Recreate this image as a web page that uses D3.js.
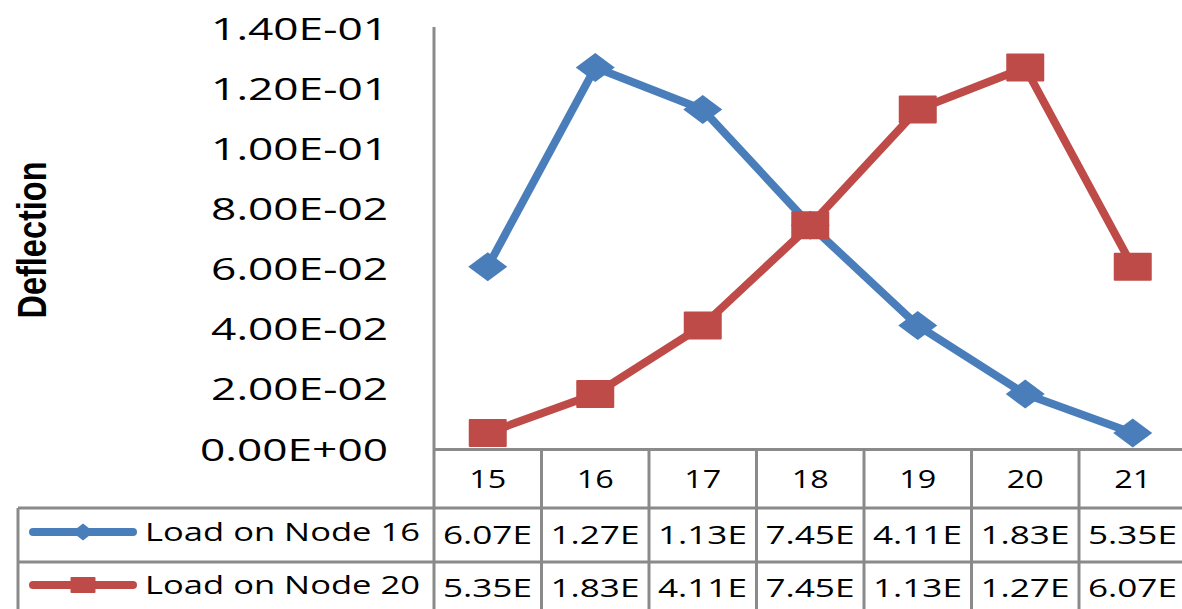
<!DOCTYPE html>
<html>
<head>
<meta charset="utf-8">
<script src="https://cdn.jsdelivr.net/npm/d3@7"></script>
<style>
  html, body { margin: 0; padding: 0; background: #ffffff; }
  svg { display: block; }
</style>
</head>
<body>
<svg id="chart" width="1182" height="609"></svg>
<script>
// Node positions along the beam
const categories = ["15", "16", "17", "18", "19", "20", "21"];
// Deflection for a load applied at node 16 and at node 20
const node16 = [0.0607, 0.127, 0.113, 0.0745, 0.0411, 0.0183, 0.00535];
const node20 = [0.00535, 0.0183, 0.0411, 0.0745, 0.113, 0.127, 0.0607];
const seriesNames = ["Load on Node 16", "Load on Node 20"];
const yTicks = [0, 0.02, 0.04, 0.06, 0.08, 0.1, 0.12, 0.14];

const W = 1182, H = 609;
const plotLeft = 434, plotTop = 28.5, plotBottom = 449;
const colW = 107.5;
const tableLeft = 18;
const rowLines = [508, 562];
const gridColor = "#8a8a8a";
const blue = "#4A7EBB", red = "#BE4B48";
const FONT = "'Open Sans', 'Liberation Sans', sans-serif";

const svg = d3.select("#chart");

const x = d3.scaleBand().domain(categories).range([plotLeft, plotLeft + colW * categories.length]);
const y = d3.scaleLinear().domain([0, 0.14]).range([plotBottom, plotTop]);

// Scientific notation like 1.40E-01
function sci(v) {
  const [m, e] = v.toExponential(2).split("e");
  const n = parseInt(e, 10);
  return m + "E" + (n < 0 ? "-" : "+") + String(Math.abs(n)).padStart(2, "0");
}

// Horizontal stretch that makes `sample` at `size` span `width` pixels
function fitScale(sample, size, width) {
  const t = svg.append("text").attr("font-family", FONT).attr("font-size", size).text(sample);
  const w = t.node().getComputedTextLength();
  t.remove();
  return width / w;
}

function stretchedText(g, str, px, py, opts) {
  return g.append("text")
    .attr("transform", `translate(${px},${py}) scale(${opts.sx || 1},1)`)
    .attr("text-anchor", opts.anchor || "start")
    .attr("font-family", FONT)
    .attr("font-size", opts.size)
    .attr("fill", "#000")
    .text(str);
}

// Y axis labels
const yAxisG = svg.append("g");
const ySize = 31;
const ySx = fitScale("1.40E-01", ySize, 177);
yTicks.forEach(t => {
  stretchedText(yAxisG, sci(t), 388, y(t) + 11.5, { size: ySize, sx: ySx, anchor: "end" });
});

// Y axis title
svg.append("text")
  .attr("transform", "translate(46,240) rotate(-90)")
  .attr("text-anchor", "middle")
  .attr("font-family", "'Liberation Sans Narrow', 'Liberation Sans', sans-serif")
  .attr("font-weight", "bold")
  .attr("font-size", 40)
  .attr("textLength", 157)
  .attr("lengthAdjust", "spacingAndGlyphs")
  .text("Deflection");

// Data table grid
const grid = svg.append("g").attr("stroke", gridColor).attr("stroke-width", 3).attr("fill", "none");
grid.append("line").attr("x1", plotLeft).attr("x2", plotLeft).attr("y1", 27).attr("y2", H);
grid.append("line").attr("x1", plotLeft).attr("x2", W).attr("y1", plotBottom + 0.5).attr("y2", plotBottom + 0.5);
rowLines.forEach(ry => {
  grid.append("line").attr("x1", tableLeft).attr("x2", W).attr("y1", ry).attr("y2", ry);
});
grid.append("line").attr("x1", tableLeft).attr("x2", tableLeft).attr("y1", rowLines[0]).attr("y2", H);
categories.slice(1).forEach(c => {
  grid.append("line").attr("x1", x(c)).attr("x2", x(c)).attr("y1", plotBottom).attr("y2", H);
});

// Category header row
const tableText = svg.append("g");
const hSize = 25;
const hSx = fitScale("15", hSize, 37);
categories.forEach(c => {
  stretchedText(tableText, c, x(c) + x.bandwidth() / 2, 488, { size: hSize, sx: hSx, anchor: "middle" });
});

// Value rows (cells are too narrow, so only mantissa and "E" show)
function cellText(v) {
  const s = sci(v);
  return s.slice(0, s.indexOf("E") + 1);
}
const rowBase = [544, 597];
const vSize = 26;
const vSx = fitScale("6.07E", vSize, 89);
[node16, node20].forEach((vals, i) => {
  vals.forEach((v, j) => {
    stretchedText(tableText, cellText(v), x(categories[j]) + 9, rowBase[i], { size: vSize, sx: vSx });
  });
});

// Series lines and markers
const line = d3.line().x((d, i) => x(categories[i]) + x.bandwidth() / 2).y(d => y(d));

function diamond(g, cx, cy, w, h, color) {
  g.append("path")
    .attr("d", `M${cx - w / 2},${cy} L${cx},${cy - h / 2} L${cx + w / 2},${cy} L${cx},${cy + h / 2} Z`)
    .attr("fill", color);
}
function square(g, cx, cy, w, h, color) {
  g.append("rect")
    .attr("x", cx - w / 2).attr("y", cy - h / 2)
    .attr("width", w).attr("height", h)
    .attr("rx", 1)
    .attr("fill", color);
}

const s1 = svg.append("g");
s1.append("path").datum(node16).attr("d", line)
  .attr("fill", "none").attr("stroke", blue).attr("stroke-width", 8)
  .attr("stroke-linejoin", "round").attr("stroke-linecap", "round");
node16.forEach((v, i) => diamond(s1, x(categories[i]) + x.bandwidth() / 2, y(v), 39, 29, blue));

const s2 = svg.append("g");
s2.append("path").datum(node20).attr("d", line)
  .attr("fill", "none").attr("stroke", red).attr("stroke-width", 8)
  .attr("stroke-linejoin", "round").attr("stroke-linecap", "round");
node20.forEach((v, i) => square(s2, x(categories[i]) + x.bandwidth() / 2, y(v), 38, 28, red));

// Legend keys inside the table
const legendG = svg.append("g");
const keyY = [532, 585];
const lSize = 26;
const lSx = fitScale("Load on Node 16", lSize, 275);
[blue, red].forEach((col, i) => {
  legendG.append("line")
    .attr("x1", 33).attr("x2", 133).attr("y1", keyY[i]).attr("y2", keyY[i])
    .attr("stroke", col).attr("stroke-width", 8).attr("stroke-linecap", "round");
  if (i === 0) diamond(legendG, 83, keyY[i], 22, 17, col);
  else square(legendG, 83, keyY[i], 25, 16, col);
  stretchedText(legendG, seriesNames[i], 145, rowBase[i] - 3, { size: lSize, sx: lSx });
});
</script>
</body>
</html>
